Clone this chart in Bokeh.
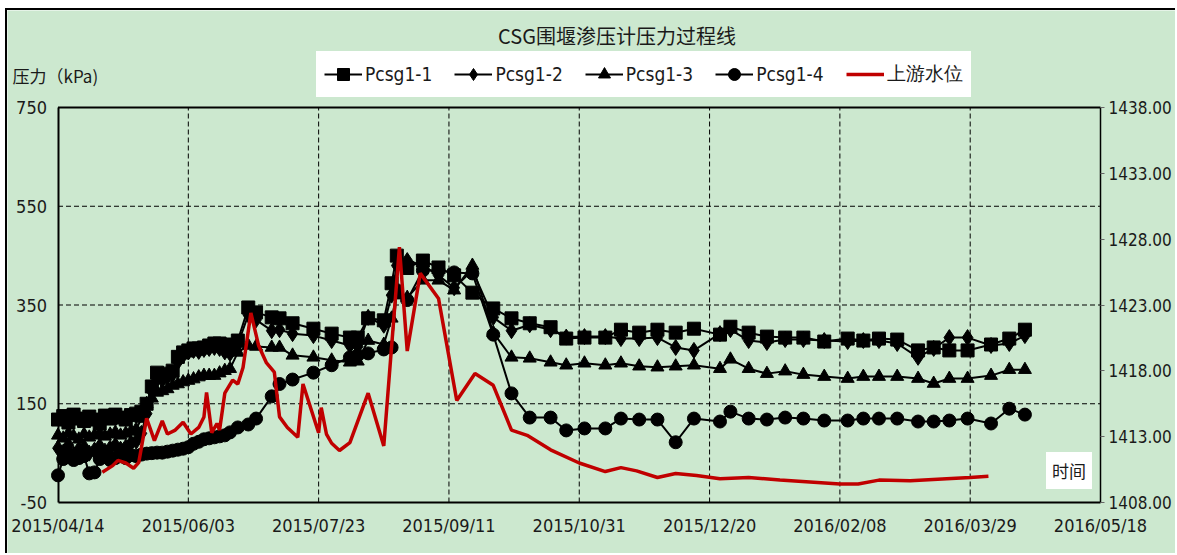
import pandas as pd
from bokeh.plotting import figure
from bokeh.models import (Range1d, LinearAxis, FixedTicker, DatetimeTickFormatter,
                          NumeralTickFormatter, Legend, LegendItem, Label, ColumnDataSource)
from bokeh.embed import file_html
from bokeh.resources import INLINE

# ---------------- data ----------------
base_date = "2015-04-14"
obs_day = [0, 2, 4, 6, 8, 10, 12, 14, 16, 18, 20, 22, 24, 26, 28, 30, 32, 34, 36, 38, 40, 42, 44, 46, 48, 50,
           52, 54, 56, 58, 60, 62, 64, 66,
           69, 73, 76, 82, 85, 90, 98, 105, 112, 115, 119, 125, 128, 130, 134, 140, 146, 152, 159, 167,
           174, 181, 189, 195, 202, 210, 216, 223, 230, 237, 244, 254, 258, 265, 272, 279, 286, 294, 303,
           309, 315, 322, 330, 336, 342, 349, 358, 365, 371]
pcsg1_1 = [118, 125, 112, 128, 120, 115, 124, 118, 110, 126, 120, 128, 122, 118, 127, 130, 134, 150, 185, 213,
           205, 211, 217, 245, 254, 258, 262, 262, 264, 268, 272, 272, 270, 266,
           278, 345, 335, 325, 323, 313, 302, 292, 284, 284, 323, 319, 394, 450, 425, 440, 426, 410, 375, 343,
           323, 313, 305, 282, 284, 284, 300, 294, 300, 294, 302, 290, 306, 294, 286, 284, 284, 276, 282,
           278, 282, 280, 258, 264, 258, 258, 270, 282, 300]
pcsg1_2 = [60, 52, 66, 48, 58, 62, 50, 56, 64, 54, 60, 66, 58, 62, 70, 74, 90, 130, 175, 200,
           198, 205, 210, 235, 248, 255, 258, 256, 260, 262, 264, 262, 255, 252,
           270, 330, 320, 298, 300, 292, 288, 278, 268, 266, 325, 309, 370, 430, 440, 430, 410, 385, 420, 325,
           298, 310, 300, 285, 286, 286, 282, 282, 284, 264, 258, 292, 300, 278, 274, 280, 280, 278, 276,
           278, 278, 272, 244, 262, 284, 284, 268, 272, 288]
pcsg1_3 = [86, 80, 90, 84, 78, 88, 82, 86, 90, 84, 88, 92, 86, 90, 94, 98, 120, 150, 161, 173,
           176, 180, 187, 190, 194, 197, 200, 204, 207, 207, 207, 212, 217, 221,
           254, 268, 266, 264, 264, 248, 244, 238, 234, 236, 278, 270, 323, 370, 365, 400, 400, 380, 430, 294,
           244, 242, 234, 228, 232, 228, 232, 226, 224, 226, 228, 221, 240, 221, 211, 216, 209, 205, 201,
           205, 205, 205, 201, 191, 201, 201, 207, 219, 219]
pcsg1_4 = [5, 38, 42, 36, 40, 44, 9, 11, 38, 42, 36, 40, 44, 40, 46, 44, 47, 49, 50, 51,
           51, 53, 55, 57, 59, 62, 69, 73, 78, 80, 82, 84, 86, 92,
           102, 108, 120, 165, 190, 199, 213, 228, 244, 248, 252, 260, 264, 380, 360, 420, 420, 416, 414, 290,
           171, 122, 122, 96, 100, 100, 120, 118, 118, 72, 120, 114, 134, 120, 118, 122, 120, 116, 116,
           120, 120, 120, 114, 114, 116, 120, 110, 140, 128]
wl_day = [17, 21, 23, 26, 29, 31, 34, 37, 40, 42, 45, 48, 51, 54, 56, 57, 59, 61, 62, 64, 67, 69, 71, 74, 77,
          80, 83, 85, 88, 92, 94, 100, 101, 103, 105, 108, 112, 119, 125, 131, 134, 139, 146, 153, 160,
          167, 174, 180, 189, 200, 210, 216, 222, 230, 237, 245, 254, 265, 277, 300, 307, 315, 327, 341, 350, 357]
wl_level = [1410.3, 1410.8, 1411.2, 1411.0, 1410.6, 1411.05, 1414.4, 1412.7, 1414.2, 1413.2, 1413.5, 1414.1,
            1413.2, 1413.7, 1414.5, 1416.35, 1413.3, 1414.0, 1413.5, 1416.3, 1417.3, 1417.0, 1418.25, 1422.4,
            1419.9, 1418.6, 1417.9, 1414.5, 1413.7, 1412.95, 1417.0, 1413.3, 1415.2, 1413.2, 1412.5, 1411.95,
            1412.55, 1416.3, 1412.3, 1427.4, 1419.5, 1425.4, 1423.5, 1415.75, 1417.8, 1416.9, 1413.5, 1413.1,
            1412.0, 1411.0, 1410.35, 1410.65, 1410.4, 1409.9, 1410.2, 1410.05, 1409.8, 1409.9, 1409.7, 1409.4,
            1409.4, 1409.7, 1409.65, 1409.8, 1409.9, 1410.0]
x_tick_labels = ["2015/04/14", "2015/06/03", "2015/07/23", "2015/09/11", "2015/10/31",
                 "2015/12/20", "2016/02/08", "2016/03/29", "2016/05/18"]
left_ticks = [-50, 150, 350, 550, 750]
right_ticks = [1408, 1413, 1418, 1423, 1428, 1433, 1438]
y_grid_values = [150, 350, 550]
series_names = ["Pcsg1-1", "Pcsg1-2", "Pcsg1-3", "Pcsg1-4"]
wl_name = "上游水位"
chart_title = "CSG围堰渗压计压力过程线"
y_title = "压力（kPa)"
x_title = "时间"

# ---------------- layout constants (canvas px) ----------------
W, H = 1170, 545
AX_LEFT, AX_RIGHT, AX_TOP, AX_BOTTOM = 50.5, 1093.0, 97.0, 492.0
BG = "#CCE8CF"
NARROW = "'DejaVu Sans Condensed', 'Liberation Sans', sans-serif"
CJK = "'Noto Sans CJK SC'"
TXT = "#1a1a1a"

# ---------------- build ----------------
base = pd.Timestamp(base_date)
obs_dates = base + pd.to_timedelta(obs_day, unit="D")
wl_dates = base + pd.to_timedelta(wl_day, unit="D")
tick_ms = [pd.Timestamp(s.replace("/", "-")).value // 10**6 for s in x_tick_labels]

# the frame covers the whole canvas; the axes sit at fixed data locations inside it
px_per_ms = (AX_RIGHT - AX_LEFT) / (tick_ms[-1] - tick_ms[0])
x_start = tick_ms[0] - AX_LEFT / px_per_ms
x_end = tick_ms[-1] + (W - AX_RIGHT) / px_per_ms
y_per_px = (left_ticks[-1] - left_ticks[0]) / (AX_BOTTOM - AX_TOP)
y_start = left_ticks[0] - (H - AX_BOTTOM) * y_per_px
y_end = left_ticks[-1] + AX_TOP * y_per_px
r_per_px = (right_ticks[-1] - right_ticks[0]) / (AX_BOTTOM - AX_TOP)
r_start = right_ticks[0] - (H - AX_BOTTOM) * r_per_px
r_end = right_ticks[-1] + AX_TOP * r_per_px

p = figure(width=W, height=H, output_backend="svg", toolbar_location=None,
           x_axis_type="datetime",
           x_range=Range1d(x_start, x_end), y_range=Range1d(y_start, y_end),
           min_border_left=0, min_border_right=0, min_border_top=0, min_border_bottom=0)
p.title = None
p.styles = {"margin-left": "5px", "margin-top": "8px",
            "border-left": "2px solid black", "border-top": "2px solid black"}
p.background_fill_color = BG
p.border_fill_color = BG
p.outline_line_color = None
p.extra_y_ranges = {"wl": Range1d(r_start, r_end)}

# axes
xa = p.xaxis[0]
xa.ticker = FixedTicker(ticks=tick_ms)
xa.bounds = (tick_ms[0], tick_ms[-1])
xa.fixed_location = left_ticks[0]
fmt = "%Y/%m/%d"
xa.formatter = DatetimeTickFormatter(microseconds=fmt, milliseconds=fmt, seconds=fmt, minsec=fmt,
                                     minutes=fmt, hourmin=fmt, hours=fmt, days=fmt, months=fmt, years=fmt)
ya = p.yaxis[0]
ya.ticker = FixedTicker(ticks=left_ticks)
ya.formatter = NumeralTickFormatter(format="0")
ya.bounds = (left_ticks[0], left_ticks[-1])
ya.fixed_location = tick_ms[0]
ra = LinearAxis(y_range_name="wl", ticker=FixedTicker(ticks=right_ticks),
                formatter=NumeralTickFormatter(format="0.00"),
                bounds=(right_ticks[0], right_ticks[-1]), fixed_location=tick_ms[-1])
p.add_layout(ra, "right")

for ax in (xa, ya, ra):
    ax.axis_line_color = "black"
    ax.axis_line_width = 2
    ax.major_label_text_font = NARROW
    ax.major_label_text_font_size = "18px"
    ax.major_label_text_color = TXT
    ax.minor_tick_line_color = None
    ax.minor_tick_in = 0
    ax.minor_tick_out = 0
xa.major_tick_line_color = None
xa.major_tick_in = 0
xa.major_tick_out = 0
xa.major_label_standoff = 12
ya.major_tick_line_color = None
ya.major_tick_in = 0
ya.major_tick_out = 0
ya.major_label_standoff = 11
ra.axis_line_width = 1.5
ra.major_label_text_font_size = "17px"
ra.major_tick_in = 0
ra.major_tick_out = 4
ra.major_tick_line_color = "#666666"
ra.major_label_standoff = 4

# grid lines (bounded to the axes box) and the top border
p.xgrid.visible = False
p.ygrid.visible = False
p.segment(x0=tick_ms[1:-1], y0=[left_ticks[0]] * (len(tick_ms) - 2),
          x1=tick_ms[1:-1], y1=[left_ticks[-1]] * (len(tick_ms) - 2),
          line_color="black", line_width=1, line_dash="5 3")
p.segment(x0=[tick_ms[0]] * len(y_grid_values), y0=y_grid_values,
          x1=[tick_ms[-1]] * len(y_grid_values), y1=y_grid_values,
          line_color="black", line_width=1, line_dash="5 3")
p.segment(x0=[tick_ms[0]], y0=[left_ticks[-1]], x1=[tick_ms[-1]], y1=[left_ticks[-1]],
          line_color="black", line_width=2)

# series
vals = [pcsg1_1, pcsg1_2, pcsg1_3, pcsg1_4]
markers = ["square", "diamond", "triangle", "circle"]
sizes = [13, 16, 13, 13]
items = []
for name, v, mk, sz in zip(series_names, vals, markers, sizes):
    src = ColumnDataSource(dict(x=obs_dates, y=v))
    lr = p.line("x", "y", source=src, line_color="black", line_width=2)
    sr = p.scatter("x", "y", source=src, marker=mk, size=sz, fill_color="black", line_color="black")
    items.append(LegendItem(label=name, renderers=[lr, sr]))

wsrc = ColumnDataSource(dict(x=wl_dates, y=wl_level))
wr = p.line("x", "y", source=wsrc, y_range_name="wl", line_color="#C00000", line_width=3.5)
items.append(LegendItem(label=wl_name, renderers=[wr]))

# legend: white box ~ canvas (309..962, 43..87); location = bottom-left relative to frame bottom
# (a white border line is kept so that the padding is applied)
legend = Legend(items=items, orientation="horizontal", location=(309, H - 87),
                label_text_font=NARROW, label_text_font_size="19px", label_text_color=TXT,
                glyph_width=38, glyph_height=30, label_standoff=3, spacing=22, padding=7, margin=0,
                background_fill_color="white", background_fill_alpha=1.0,
                border_line_color="white", border_line_width=1)
p.add_layout(legend, "center")

# texts (screen units relative to frame bottom-left = canvas bottom-left)
p.add_layout(Label(x=609.5, y=H - 25, x_units="screen", y_units="screen", text=chart_title,
                   text_align="center", text_baseline="middle", text_font=CJK,
                   text_font_size="20px", text_color=TXT))
p.add_layout(Label(x=5, y=H - 65, x_units="screen", y_units="screen", text=y_title,
                   text_align="left", text_baseline="middle", text_font=CJK,
                   text_font_size="17px", text_color=TXT))
p.add_layout(Label(x=1061.5, y=H - 460, x_units="screen", y_units="screen", text=x_title,
                   text_align="center", text_baseline="middle", text_font=CJK,
                   text_font_size="17px", text_color=TXT,
                   background_fill_color="white", padding=6))

open("out.html", "w").write(file_html(p, INLINE))
